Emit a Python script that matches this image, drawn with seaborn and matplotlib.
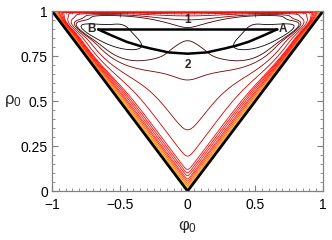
import numpy as np
import matplotlib
matplotlib.use("Agg")
import matplotlib.pyplot as plt
import seaborn as sns
from matplotlib.ticker import MultipleLocator, FuncFormatter

sns.set_style("ticks")
plt.rcParams["font.family"] = ["Liberation Sans", "DejaVu Sans"]

# contour crossings read on the phi0 = 0 axis (from the bottom up)
rho_cross = [0.009, 0.015, 0.022, 0.031, 0.043, 0.056, 0.068, 0.085,
             0.102, 0.12, 0.194, 0.34, 0.617, 0.835]
ellipse_pt = (0.34, 0.805)  # one point on the inner (black) ellipses

# the two paths between B and A
path1_phi = [-0.66, 0.66]
path1_rho = [0.898, 0.898]
path2_phi = [-0.66, -0.56, -0.45, -0.36, -0.28, -0.14, 0.0,
             0.14, 0.28, 0.36, 0.45, 0.56, 0.66]
path2_rho = [0.898, 0.864, 0.829, 0.808, 0.793, 0.770, 0.763,
             0.770, 0.793, 0.808, 0.829, 0.864, 0.898]

# triangle border |phi0| = rho0
edge_phi = [-1.0, 0.0, 1.0]
edge_rho = [1.0, 0.0, 1.0]

# surface model: soft distance to the border plus two humps
P, W, BETA = 6, 0.2, 0.1
A1, C1, S1 = 0.6, (0.6, 0.85), (0.25, 0.15)
A2, C2, TH, SV = 0.8, (0.62, 0.87), np.deg2rad(14), 0.025
SU_IN, SU_OUT = 0.15, 0.25


def surface(phi, rho):
    a = (rho + phi) / 2
    b = (rho - phi) / 2
    c = (1 - rho) / W
    with np.errstate(all="ignore"):
        d = (a ** -P + b ** -P + c ** -P) ** (-1.0 / P)
        f = np.log(d / (d + BETA))
    for s in (1, -1):
        x = s * phi
        f = f + A1 * np.exp(-0.5 * ((x - C1[0]) / S1[0]) ** 2
                            - 0.5 * ((rho - C1[1]) / S1[1]) ** 2)
        dx, dy = x - C2[0], rho - C2[1]
        u = dx * np.cos(TH) + dy * np.sin(TH)
        v = -dx * np.sin(TH) + dy * np.cos(TH)
        su = np.where(u < 0, SU_IN, SU_OUT)
        f = f + A2 * np.exp(-0.5 * (u / su) ** 2 - 0.5 * (v / SV) ** 2)
    bad = (a <= 0) | (b <= 0) | (rho >= 1)
    return np.where(bad, np.nan, f)


phi_g = np.linspace(-1, 1, 1201)
rho_g = np.linspace(0, 1, 601)
PHI, RHO = np.meshgrid(phi_g, rho_g)
F = np.ma.masked_invalid(surface(PHI, RHO))

lev = [float(surface(0.0, r)) for r in rho_cross]
lev.append(float(surface(*ellipse_pt)))
cmap = plt.get_cmap("hot")
shade = [0.74, 0.68, 0.62, 0.55, 0.48, 0.43, 0.40, 0.38, 0.37, 0.36,
         0.30, 0.24, 0.16, 0.08, 0.0]
pairs = sorted(zip(lev, [cmap(s) for s in shade]))
levels = [p[0] for p in pairs]
colors = [p[1] for p in pairs]

fig, ax = plt.subplots(figsize=(3.32, 2.40), dpi=100)
fig.subplots_adjust(left=0.157, right=0.973, bottom=0.204, top=0.954)

ax.contour(PHI, RHO, F, levels=levels, colors=colors, linewidths=0.6)

sns.lineplot(x=edge_phi, y=edge_rho, sort=False, color="black", lw=2.0, ax=ax)
sns.lineplot(x=path1_phi, y=path1_rho, sort=False, color="black", lw=1.8, ax=ax)
sns.lineplot(x=path2_phi, y=path2_rho, sort=False, color="black", lw=1.8, ax=ax)

lab = dict(fontsize=8.5, fontweight="bold", va="center")
ax.text(0.675, 0.898, "A", ha="left", **lab)
ax.text(-0.675, 0.898, "B", ha="right", **lab)
ax.text(0.0, 0.952, "1", ha="center", **lab)
ax.text(0.0, 0.70, "2", ha="center", **lab)

ax.set_xlim(-1, 1)
ax.set_ylim(0, 1)
ax.xaxis.set_major_locator(MultipleLocator(0.5))
ax.xaxis.set_minor_locator(MultipleLocator(0.05))
ax.yaxis.set_major_locator(MultipleLocator(0.25))
ax.yaxis.set_minor_locator(MultipleLocator(0.05))
fmt = FuncFormatter(lambda v, _: ("%g" % v).replace("-", "\u2212"))
ax.xaxis.set_major_formatter(fmt)
ax.yaxis.set_major_formatter(fmt)
ax.tick_params(which="both", direction="in", top=True, right=True,
               color="#808080", labelsize=10, labelcolor="black")
ax.tick_params(axis="x", pad=5)
ax.tick_params(axis="y", pad=3)
ax.tick_params(which="major", length=4, width=0.8)
ax.tick_params(which="minor", length=2, width=0.6)
for sp in ax.spines.values():
    sp.set_color("#808080")
    sp.set_linewidth(0.9)

ax.set_xlabel(r"$\mathregular{φ_0}$", fontsize=12, labelpad=4)
ax.set_ylabel(r"$\mathregular{ρ_0}$", fontsize=12, rotation=0, labelpad=6,
              va="center")

fig.savefig("out.png", dpi=100)
